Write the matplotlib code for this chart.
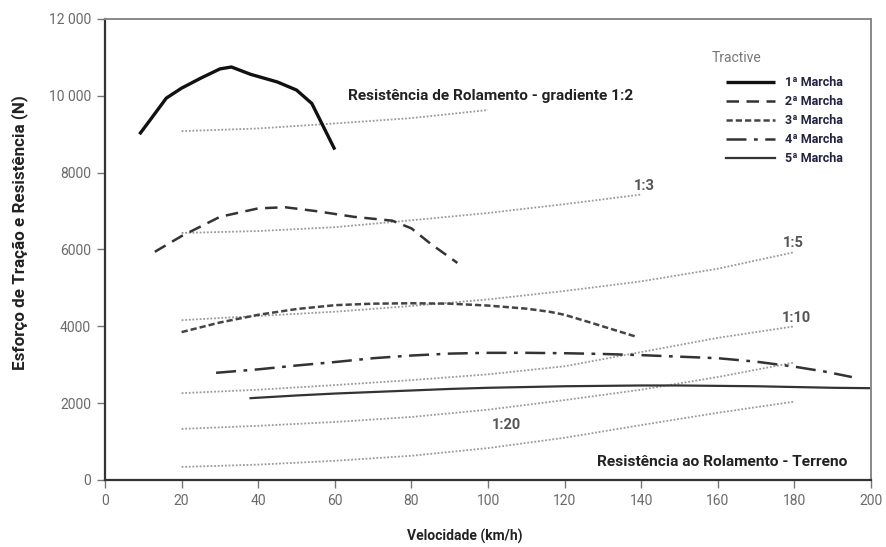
import matplotlib
matplotlib.use("Agg")
import matplotlib.pyplot as plt
from matplotlib.font_manager import FontProperties
from matplotlib.ticker import FixedLocator, FixedFormatter

# ---------------- data ----------------
gear1_x = [9, 12, 16, 20, 25, 30, 33, 38, 45, 50, 54, 57, 60]
gear1_y = [9000, 9400, 9940, 10200, 10460, 10700, 10750, 10560, 10360, 10150, 9800, 9200, 8600]

gear2_x = [13, 20, 30, 40, 47, 55, 65, 75, 80, 85, 92]
gear2_y = [5940, 6350, 6850, 7070, 7100, 7000, 6850, 6750, 6550, 6150, 5650]

gear3_x = [20, 30, 40, 50, 60, 70, 80, 90, 100, 110, 116, 120, 127, 139]
gear3_y = [3850, 4100, 4300, 4450, 4550, 4590, 4600, 4590, 4540, 4460, 4380, 4300, 4090, 3720]

gear4_x = [29, 40, 50, 60, 70, 80, 90, 100, 110, 120, 130, 140, 150, 160, 170, 180, 188, 195]
gear4_y = [2790, 2880, 2980, 3070, 3170, 3240, 3290, 3310, 3310, 3300, 3280, 3250, 3210, 3170, 3080, 2950, 2820, 2680]

gear5_x = [38, 50, 60, 70, 80, 90, 100, 110, 120, 130, 140, 150, 160, 170, 180, 190, 200]
gear5_y = [2130, 2200, 2250, 2290, 2330, 2370, 2400, 2420, 2440, 2450, 2460, 2460, 2450, 2440, 2420, 2400, 2390]

res12_x = [20, 40, 60, 80, 100]
res12_y = [9080, 9150, 9280, 9420, 9630]

res13_x = [20, 40, 60, 80, 100, 120, 140]
res13_y = [6430, 6480, 6580, 6760, 6950, 7180, 7430]

res15_x = [20, 40, 60, 80, 100, 120, 140, 160, 180]
res15_y = [4160, 4270, 4380, 4530, 4700, 4920, 5170, 5500, 5930]

res110_x = [20, 40, 60, 80, 100, 120, 140, 160, 180]
res110_y = [2260, 2350, 2470, 2600, 2750, 2960, 3330, 3700, 4000]

res120_x = [20, 40, 60, 80, 100, 120, 140, 160, 180]
res120_y = [1330, 1410, 1510, 1640, 1830, 2080, 2350, 2680, 3060]

resterr_x = [20, 40, 60, 80, 100, 120, 140, 160, 180]
resterr_y = [340, 400, 500, 630, 830, 1100, 1430, 1750, 2040]

x_ticks = [0, 20, 40, 60, 80, 100, 120, 140, 160, 180, 200]
y_ticks = [0, 2000, 4000, 6000, 8000, 10000, 12000]
y_tick_labels = ["0", "2000", "4000", "6000", "8000", "10 000", "12 000"]

legend_title = "Tractive"
legend_labels = ["1ª Marcha", "2ª Marcha", "3ª Marcha", "4ª Marcha", "5ª Marcha"]

# ---------------- fonts ----------------
FAM = ["Roboto", "DejaVu Sans"]
FP_B = FontProperties(family=FAM, weight="bold")
FP_R = FontProperties(family=FAM)

# ---------------- figure ----------------
fig = plt.figure(figsize=(8.87, 5.47), dpi=100)
ax = fig.add_axes([0.1184, 0.1225, 0.8636, 0.8428])

dot_kw = dict(color="#9a9a9a", lw=1.3, linestyle=(0, (1, 1)))
for xs, ys in [(res12_x, res12_y), (res13_x, res13_y), (res15_x, res15_y),
               (res110_x, res110_y), (res120_x, res120_y), (resterr_x, resterr_y)]:
    ax.plot(xs, ys, **dot_kw)

h1, = ax.plot(gear1_x, gear1_y, color="#111111", lw=2.4, solid_capstyle="butt")
h2, = ax.plot(gear2_x, gear2_y, color="#333333", lw=1.8, linestyle=(0, (5, 3)))
h3, = ax.plot(gear3_x, gear3_y, color="#444444", lw=1.8, linestyle=(0, (2.5, 1.2)))
h4, = ax.plot(gear4_x, gear4_y, color="#333333", lw=1.8, linestyle=(0, (8, 3, 1.5, 3)))
h5, = ax.plot(gear5_x, gear5_y, color="#333333", lw=1.6)

ax.set_xlim(0, 200)
ax.set_ylim(0, 12000)
ax.xaxis.set_major_locator(FixedLocator(x_ticks))
ax.yaxis.set_major_locator(FixedLocator(y_ticks))
ax.yaxis.set_major_formatter(FixedFormatter(y_tick_labels))
ax.tick_params(axis="both", direction="out", length=6, width=1, color="#777777",
               labelcolor="#6a6a6a", labelsize=10, pad=4)
for lbl in ax.get_xticklabels() + ax.get_yticklabels():
    lbl.set_family(FAM)

for s in ["left", "bottom"]:
    ax.spines[s].set_color("#333333")
    ax.spines[s].set_linewidth(1.6)
for s in ["top", "right"]:
    ax.spines[s].set_color("#888888")
    ax.spines[s].set_linewidth(1.4)

renderer = fig.canvas.get_renderer()

def fit(t, target, vertical=False, maxsize=14):
    t.set_fontsize(10)
    bb = t.get_window_extent(renderer)
    cur = bb.height if vertical else bb.width
    t.set_fontsize(min(maxsize, 10 * target / cur))
    return t

# axis labels (figure coords)
yl = fig.text(20 / 887, 1 - 233 / 547, "Esforço de Tração e Resistência (N)",
              fontproperties=FP_B.copy(), color="#222222", rotation=90,
              ha="center", va="center")
fit(yl, 275, vertical=True)
xl = fig.text(465 / 887, 1 - 536 / 547, "Velocidade (km/h)",
              fontproperties=FP_B.copy(), color="#222222", ha="center", va="center")
fit(xl, 116)

t1 = ax.text(63.5, 9990, "Resistência de Rolamento - gradiente 1:2",
             fontproperties=FP_B.copy(), color="#222222", ha="left", va="center")
fit(t1, 285)
t2 = ax.text(128.5, 480, "Resistência ao Rolamento - Terreno",
             fontproperties=FP_B.copy(), color="#222222", ha="left", va="center")
fit(t2, 250)

for xx, yy, s in [(140.7, 7650, "1:3"), (179.6, 6170, "1:5"),
                  (180.5, 4220, "1:10"), (104.7, 1430, "1:20")]:
    ax.text(xx, yy, s, fontproperties=FP_B.copy(), fontsize=10.5,
            color="#555555", ha="center", va="center")

# legend title
fig.text(712 / 887, 1 - 58 / 547, legend_title, fontproperties=FP_R.copy(),
         fontsize=10, color="#777777", ha="left", va="center")

leg_size = 9
px = leg_size * 100 / 72
lp = FP_B.copy()
lp.set_size(leg_size)
leg = ax.legend([h1, h2, h3, h4, h5], legend_labels, loc="upper left",
                bbox_to_anchor=((726 - 105) / 766, (480 - 76) / 461),
                frameon=False, prop=lp, handlelength=49 / px,
                labelspacing=(18.5 - px) / px, handletextpad=10 / px,
                borderpad=0, borderaxespad=0)
for t in leg.get_texts():
    t.set_color("#222244")

fig.savefig("out.png", dpi=100)
